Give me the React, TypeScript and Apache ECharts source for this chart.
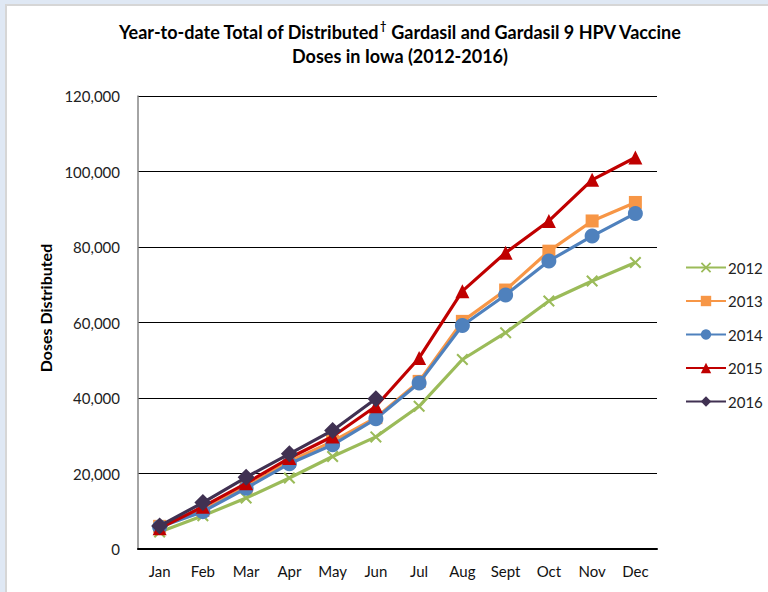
import React, { useEffect, useRef } from "react";
import * as echarts from "echarts";

const months = ["Jan", "Feb", "Mar", "Apr", "May", "Jun", "Jul", "Aug", "Sept", "Oct", "Nov", "Dec"];
const years = ["2012", "2013", "2014", "2015", "2016"];
const d2012 = [4500, 8800, 13500, 18800, 24500, 29700, 37800, 50200, 57300, 65700, 71000, 75900];
const d2013 = [6000, 10200, 16500, 23200, 28500, 34800, 44400, 60300, 68600, 78900, 86900, 91800];
const d2014 = [5800, 9900, 16100, 22600, 27600, 34500, 44000, 59200, 67300, 76300, 82900, 88900];
const d2015 = [5500, 11200, 17400, 24100, 29800, 37800, 50600, 68300, 78500, 86900, 97800, 103700];
const d2016 = [6100, 12300, 19000, 25200, 31400, 39800];

const colors = ["#9BBB59", "#F79646", "#4F81BD", "#C00000", "#403152"];
const xSymbol = "path://M0,1.2 L1.2,0 L10,8.8 L8.8,10 Z M8.8,0 L10,1.2 L1.2,10 L0,8.8 Z";
const symbols = [xSymbol, "rect", "circle", "triangle", "diamond"];
const sizes = [12, 13, 15, 14, 17];
const FONT = "Lato, 'Open Sans', sans-serif";

export default function App() {
  const ref = useRef<HTMLDivElement>(null);
  useEffect(() => {
    if (!ref.current) return;
    const chart = echarts.init(ref.current, null, { renderer: "svg" });
    const all = [d2012, d2013, d2014, d2015, d2016];
    chart.setOption({
      animation: false,
      backgroundColor: "#ffffff",
      textStyle: { fontFamily: FONT },
      title: {
        text: "{b|Year-to-date Total of Distributed}{s|†}{b| Gardasil and Gardasil 9 HPV Vaccine}\n{b|Doses in Iowa (2012-2016)}",
        left: 395,
        textAlign: "center",
        top: 15,
        textStyle: {
          rich: {
            b: { fontFamily: FONT, fontWeight: "bold", fontSize: 18, color: "#000", lineHeight: 24 },
            s: { fontFamily: FONT, fontWeight: "bold", fontSize: 11, color: "#000", verticalAlign: "top", lineHeight: 24, padding: [0, 0, 9, 1] },
          },
        },
      },
      legend: {
        orient: "vertical",
        left: 680,
        top: 255,
        itemWidth: 40,
        itemHeight: 13,
        itemGap: 18.5,
        data: years,
        textStyle: { fontFamily: FONT, fontSize: 15, color: "#222", padding: [0, 0, 0, -3] },
      },
      grid: { left: 138, right: 111, top: 96, bottom: 43, containLabel: false },
      xAxis: {
        type: "category",
        data: months,
        boundaryGap: true,
        axisLine: { lineStyle: { color: "#000", width: 2 } },
        axisTick: { alignWithLabel: true, length: 5, lineStyle: { color: "#000", width: 2 } },
        axisLabel: { fontFamily: FONT, fontSize: 15, color: "#111", margin: 14 },
      },
      yAxis: {
        type: "value",
        min: 0,
        max: 120000,
        interval: 20000,
        axisLine: { show: true, lineStyle: { color: "#868686", width: 1.5 } },
        axisTick: { show: false },
        splitLine: { lineStyle: { color: "#000", width: 1 } },
        axisLabel: {
          fontFamily: FONT,
          fontSize: 15,
          color: "#222",
          margin: 18,
          formatter: (v: number) => v.toLocaleString("en-US"),
        },
      },
      graphic: [
        { type: "rect", shape: { x: 0, y: 0, width: 768, height: 4 }, style: { fill: "#dfe8f4" }, silent: true },
        { type: "rect", shape: { x: 0, y: 0, width: 5, height: 592 }, style: { fill: "#dfe8f4" }, silent: true },
        { type: "rect", shape: { x: 5, y: 4, width: 763, height: 2 }, style: { fill: "#d6d6d6" }, silent: true },
        { type: "rect", shape: { x: 5, y: 4, width: 2, height: 588 }, style: { fill: "#d6d6d6" }, silent: true },
        {
          type: "text",
          x: 45,
          y: 308,
          rotation: Math.PI / 2,
          style: {
            text: "Doses Distributed",
            fontFamily: FONT,
            fontWeight: "bold",
            fontSize: 16,
            fill: "#000",
            align: "center",
            verticalAlign: "middle",
          },
        },
      ],
      series: years.map((y, i) => ({
        name: y,
        type: "line",
        data: all[i],
        symbol: symbols[i],
        symbolSize: sizes[i],
        showAllSymbol: true,
        itemStyle: { color: colors[i] },
        lineStyle: { color: colors[i], width: 3.2 },
        z: 2 + i,
      })),
    });
    return () => chart.dispose();
  }, []);
  return (
    <div
      ref={ref}
      style={{ position: "absolute", left: 0, top: 0, width: 768, height: 592 }}
    />
  );
}
